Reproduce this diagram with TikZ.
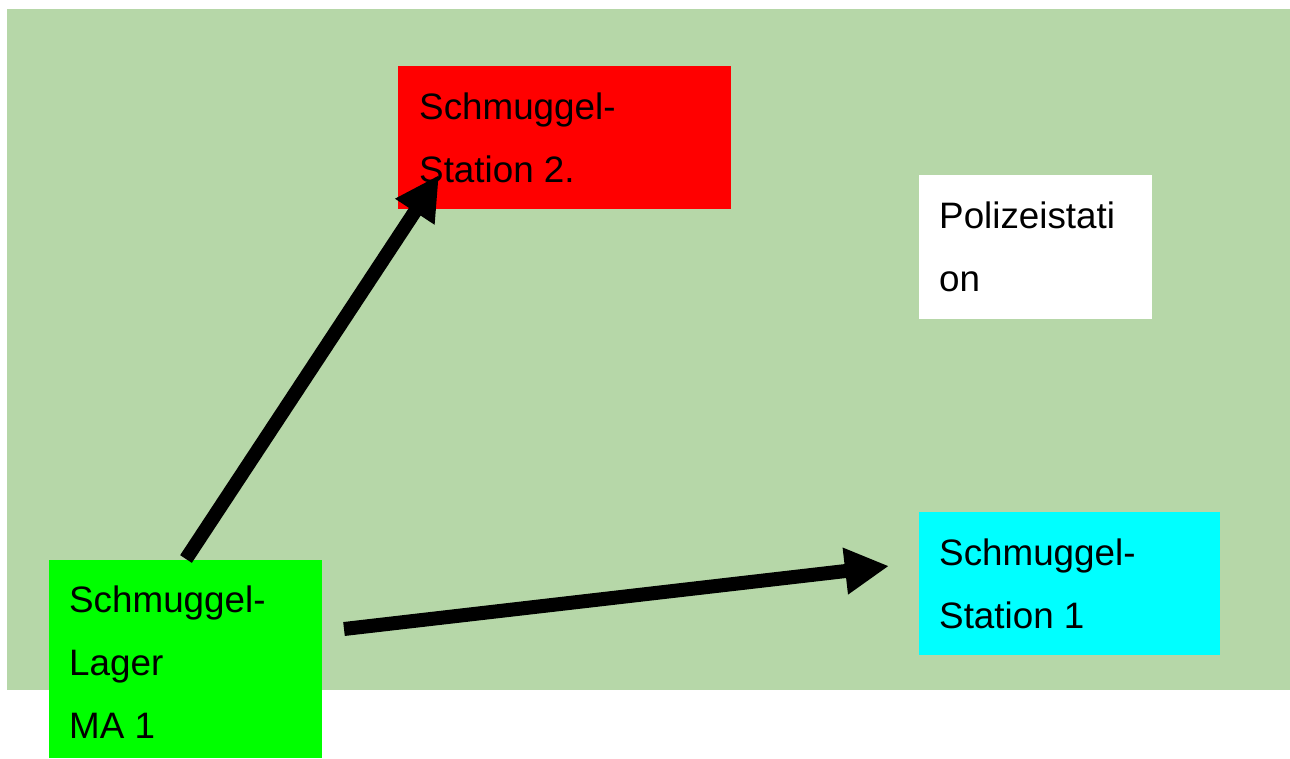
\documentclass[tikz,border=0pt]{standalone}
\usepackage{fontspec}
\setmainfont{Liberation Sans}
\usetikzlibrary{arrows.meta,calc}
\definecolor{bggreen}{HTML}{B6D7A8}
\definecolor{boxred}{HTML}{FF0000}
\definecolor{boxcyan}{HTML}{00FFFF}
\definecolor{boxgreen}{HTML}{00FF00}
\begin{document}
\begin{tikzpicture}[x=1pt,y=-1pt,
  box/.style={draw=none,anchor=north west,inner sep=0pt},
  txt/.style={anchor=base west,inner sep=0pt,align=left,font=\fontsize{36.8}{63}\selectfont},
  bigarrow/.style={line width=14pt,-{Triangle[length=44pt,width=44pt]}}]
\useasboundingbox (0,0) rectangle (1290,758);
\fill[white] (0,0) rectangle (1290,758);
\node[box,fill=bggreen,minimum width=1283pt,minimum height=681pt] (bg) at (7,9) {};
\node[box,fill=boxred,minimum width=333pt,minimum height=143pt] (s2) at (398,66) {};
\node[txt] (s2t) at (419,182) {Schmuggel-\\Station 2.};
\node[box,fill=white,minimum width=233pt,minimum height=144pt] (pol) at (919,175) {};
\node[txt] (polt) at (939,291) {Polizeistati\\on};
\node[box,fill=boxcyan,minimum width=301pt,minimum height=143pt] (s1) at (919,512) {};
\node[txt] (s1t) at (939,628) {Schmuggel-\\Station 1};
\node[box,fill=boxgreen,minimum width=273pt,minimum height=198pt] (lager) at (49,560) {};
\node[txt] (lagert) at (69,738) {Schmuggel-\\Lager\\MA 1};
\coordinate (a1s) at (186,559);
\coordinate (a1e) at (439,175);
\coordinate (a2s) at (344,629);
\coordinate (a2e) at (889,566);
\draw[bigarrow] (a1s) -- (a1e);
\draw[bigarrow] (a2s) -- (a2e);
\end{tikzpicture}
\end{document}
